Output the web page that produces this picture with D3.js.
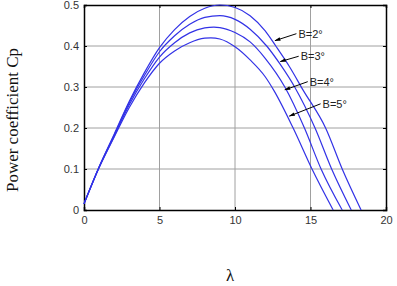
<!DOCTYPE html>
<html>
<head>
<meta charset="utf-8">
<script src="https://cdn.jsdelivr.net/npm/d3@7"></script>
<style>
  body{margin:0;background:#fff;}
  svg{display:block;}
</style>
</head>
<body>
<svg id="chart" width="397" height="286"></svg>
<script>
// tip speed ratio vs power coefficient, one series per pitch angle
var xTicks=[0,5,10,15,20];
var yTicks=[0,0.1,0.2,0.3,0.4,0.5];
var pitch=["B=2°","B=3°","B=4°","B=5°"];

var cpB2=[[0,0.015],[1,0.105],[2,0.185],[3,0.265],[4,0.335],[5,0.396],[6,0.44],[7,0.472],[8,0.492],[9,0.5],[10,0.494],[11,0.474],[12,0.437],[12.7,0.4],[13.6,0.35],[14.5,0.293],[16,0.2],[17.1,0.1],[18.35,0]];
var cpB3=[[0,0.015],[1,0.105],[2,0.183],[3,0.262],[4,0.328],[5,0.386],[6,0.425],[7,0.453],[8,0.47],[9,0.474],[10,0.465],[11,0.441],[12.1,0.4],[13,0.355],[13.95,0.3],[15.3,0.2],[16.4,0.1],[17.7,0]];
var cpB4=[[0,0.015],[1,0.104],[2,0.18],[3,0.257],[4,0.32],[5,0.373],[6,0.408],[7,0.432],[8,0.444],[8.6,0.446],[9,0.445],[10,0.433],[11,0.41],[12,0.37],[13.3,0.3],[14.6,0.2],[15.7,0.1],[17.1,0]];
var cpB5=[[0,0.015],[1,0.103],[2,0.178],[3,0.25],[4,0.31],[5,0.358],[6,0.388],[7,0.408],[8,0.419],[8.4,0.42],[9,0.417],[10,0.398],[11,0.366],[12,0.325],[12.6,0.29],[13.85,0.2],[15.1,0.1],[16.5,0]];
var series=[cpB2,cpB3,cpB4,cpB5];

// where each label sits and which point its arrow points at
var labelAt=[[14.2,0.43],[14.35,0.375],[14.95,0.313],[15.8,0.259]];
var arrowTo=[[12.65,0.413],[13.0,0.362],[13.3,0.293],[13.6,0.229]];

const margin={top:5,bottom:76,left:84,right:11};
var width=397-margin.left-margin.right;
var height=286-margin.top-margin.bottom;

var svg=d3.select("#chart");
var g=svg.append("g").attr("transform","translate("+margin.left+","+margin.top+")");

var x=d3.scaleLinear().domain([0,20]).range([0,width]);
var y=d3.scaleLinear().domain([0,0.5]).range([height,0]);

// grid
g.selectAll("line.vgrid").data(xTicks.slice(1,-1)).enter().append("line")
    .attr("x1",d=>x(d)).attr("x2",d=>x(d))
    .attr("y1",0).attr("y2",height)
    .attr("stroke","#a0a0a0").attr("stroke-width",1);
g.selectAll("line.hgrid").data(yTicks.slice(1,-1)).enter().append("line")
    .attr("x1",0).attr("x2",width)
    .attr("y1",d=>y(d)).attr("y2",d=>y(d))
    .attr("stroke","#a0a0a0").attr("stroke-width",1);

// axes
var xAxis=d3.axisBottom(x).tickValues(xTicks).tickSize(-3).tickPadding(6).tickFormat(d3.format("d"));
var yAxis=d3.axisLeft(y).tickValues(yTicks).tickSize(-3).tickPadding(5).tickFormat(d=>d==0?"0":d3.format(".1f")(d));
var xTop=d3.axisTop(x).tickValues(xTicks).tickSize(-3).tickFormat("");
var yRight=d3.axisRight(y).tickValues(yTicks).tickSize(-3).tickFormat("");

g.append("g").attr("class","ax").attr("transform","translate(0,"+height+")").call(xAxis);
g.append("g").attr("class","ax").call(yAxis);
g.append("g").attr("class","ax").call(xTop);
g.append("g").attr("class","ax").attr("transform","translate("+width+",0)").call(yRight);

g.selectAll(".ax path").attr("stroke","#000").attr("stroke-width",1.5);
g.selectAll(".ax line").attr("stroke","#000");
g.selectAll(".ax text")
    .style("font-family","'Liberation Sans',Arial,sans-serif")
    .style("font-size","11px")
    .attr("fill","#333");

// curves
var line=d3.line()
    .x(d=>x(d[0]))
    .y(d=>y(d[1]))
    .curve(d3.curveMonotoneX);

g.selectAll("path.cp").data(series).enter().append("path")
    .attr("class","cp")
    .attr("d",line)
    .attr("fill","none")
    .attr("stroke","#3232e6")
    .attr("stroke-width",1.2);

// arrows + labels
svg.append("defs").append("marker")
    .attr("id","head")
    .attr("viewBox","0 0 10 10")
    .attr("refX",9).attr("refY",5)
    .attr("markerWidth",8).attr("markerHeight",6)
    .attr("orient","auto")
    .append("path").attr("d","M0,2L10,5L0,8Z").attr("fill","#000");

pitch.forEach(function(name,i){
    g.append("line")
        .attr("x1",x(labelAt[i][0])-2).attr("y1",y(labelAt[i][1]))
        .attr("x2",x(arrowTo[i][0])).attr("y2",y(arrowTo[i][1]))
        .attr("stroke","#000").attr("stroke-width",1)
        .attr("marker-end","url(#head)");
    g.append("text")
        .attr("x",x(labelAt[i][0]))
        .attr("y",y(labelAt[i][1]))
        .attr("dy","0.35em")
        .style("font-family","'Liberation Sans',Arial,sans-serif")
        .style("font-size","11px")
        .attr("fill","#222")
        .text(name);
});

// axis titles
svg.append("text")
    .attr("transform","translate(18,120) rotate(-90)")
    .attr("text-anchor","middle")
    .style("font-family","'Liberation Serif','Times New Roman',serif")
    .style("font-size","17px")
    .attr("fill","#111")
    .text("Power coefficient Cp");

svg.append("text")
    .attr("x",230).attr("y",281)
    .attr("text-anchor","middle")
    .style("font-family","'Liberation Serif','Times New Roman',serif")
    .style("font-size","17px")
    .attr("fill","#111")
    .text("λ");
</script>
</body>
</html>
